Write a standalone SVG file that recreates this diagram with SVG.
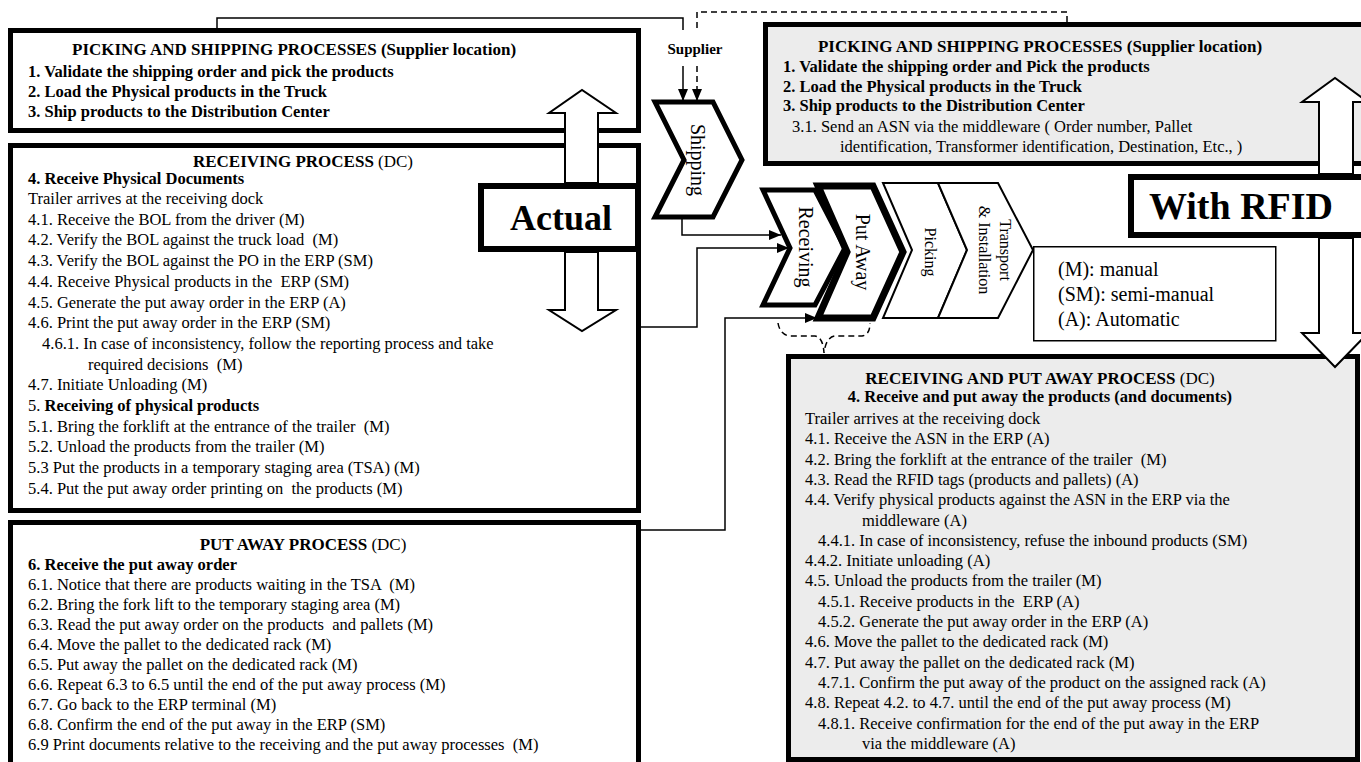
<svg xmlns="http://www.w3.org/2000/svg" width="1361" height="762" viewBox="0 0 1361 762">
<style>
.box{fill:#fff;stroke:#000;stroke-width:5}
.gbox{fill:#ececec;stroke:#000;stroke-width:5}
.t{font-family:"Liberation Serif","Times New Roman",serif;font-size:16.5px;fill:#000}
.b{font-weight:bold}
.n{font-weight:normal}
.h{font-weight:bold;font-size:17px}
.c{text-anchor:middle}
.conn{fill:none;stroke:#000;stroke-width:1.5}
.dash{stroke-dasharray:6 4}
.arr{fill:#fff;stroke:#000;stroke-width:2}
.chev{fill:#fff;stroke:#000;stroke-linejoin:miter}
.cl{font-family:"Liberation Serif","Times New Roman",serif;fill:#000;text-anchor:middle}
</style>
<defs>
<marker id="ah" viewBox="0 0 12 10" refX="12" refY="5" markerWidth="12" markerHeight="10" markerUnits="userSpaceOnUse" orient="auto"><path d="M0,0 L12,5 L0,10 Z" fill="#000"/></marker>
</defs>
<rect width="1361" height="762" fill="#fff"/>

<g id="actual-supplier-box">
<rect class="box" x="10.5" y="30.5" width="628" height="100"/>
<text class="t h" x="72" y="55">PICKING AND SHIPPING PROCESSES (Supplier location)</text>
<text class="t b" x="28" y="77">1. Validate the shipping order and pick the products</text>
<text class="t b" x="28" y="97">2. Load the Physical products in the Truck</text>
<text class="t b" x="28" y="117">3. Ship products to the Distribution Center</text>
</g>

<g id="actual-receiving-box">
<rect class="box" x="10.5" y="145.5" width="628" height="365"/>
<text class="t h c" x="303" y="167">RECEIVING PROCESS <tspan class="n">(DC)</tspan></text>
<text class="t b" x="28" y="184">4. Receive Physical Documents</text>
<text class="t" x="28" y="204">Trailer arrives at the receiving dock</text>
<text class="t" x="28" y="224.7">4.1. Receive the BOL from the driver (M)</text>
<text class="t" x="28" y="245.4" xml:space="preserve">4.2. Verify the BOL against the truck load  (M)</text>
<text class="t" x="28" y="266.1">4.3. Verify the BOL against the PO in the ERP (SM)</text>
<text class="t" x="28" y="286.8" xml:space="preserve">4.4. Receive Physical products in the  ERP (SM)</text>
<text class="t" x="28" y="307.5">4.5. Generate the put away order in the ERP (A)</text>
<text class="t" x="28" y="328.2">4.6. Print the put away order in the ERP (SM)</text>
<text class="t" x="42" y="348.9">4.6.1. In case of inconsistency, follow the reporting process and take</text>
<text class="t" x="88" y="369.6" xml:space="preserve">required decisions  (M)</text>
<text class="t" x="28" y="390.3">4.7. Initiate Unloading (M)</text>
<text class="t" x="28" y="411">5. <tspan class="b">Receiving of physical products</tspan></text>
<text class="t" x="28" y="431.7" xml:space="preserve">5.1. Bring the forklift at the entrance of the trailer  (M)</text>
<text class="t" x="28" y="452.4">5.2. Unload the products from the trailer (M)</text>
<text class="t" x="28" y="473.1">5.3 Put the products in a temporary staging area (TSA) (M)</text>
<text class="t" x="28" y="493.8" xml:space="preserve">5.4. Put the put away order printing on  the products (M)</text>
</g>

<g id="actual-putaway-box">
<rect class="box" x="10.5" y="522.5" width="628" height="260"/>
<text class="t h c" x="303" y="550">PUT AWAY PROCESS <tspan class="n">(DC)</tspan></text>
<text class="t b" x="28" y="570">6. Receive the put away order</text>
<text class="t" x="28" y="590" xml:space="preserve">6.1. Notice that there are products waiting in the TSA  (M)</text>
<text class="t" x="28" y="610">6.2. Bring the fork lift to the temporary staging area (M)</text>
<text class="t" x="28" y="630" xml:space="preserve">6.3. Read the put away order on the products  and pallets (M)</text>
<text class="t" x="28" y="650">6.4. Move the pallet to the dedicated rack (M)</text>
<text class="t" x="28" y="670">6.5. Put away the pallet on the dedicated rack (M)</text>
<text class="t" x="28" y="690">6.6. Repeat 6.3 to 6.5 until the end of the put away process (M)</text>
<text class="t" x="28" y="710">6.7. Go back to the ERP terminal (M)</text>
<text class="t" x="28" y="730">6.8. Confirm the end of the put away in the ERP (SM)</text>
<text class="t" x="28" y="750" xml:space="preserve">6.9 Print documents relative to the receiving and the put away processes  (M)</text>
</g>

<g id="rfid-supplier-box">
<rect class="gbox" x="765.5" y="24.5" width="610" height="139"/>
<text class="t h c" x="1040" y="52">PICKING AND SHIPPING PROCESSES (Supplier location)</text>
<text class="t b" x="783" y="72">1. Validate the shipping order and Pick the products</text>
<text class="t b" x="783" y="92">2. Load the Physical products in the Truck</text>
<text class="t b" x="783" y="111">3. Ship products to the Distribution Center</text>
<text class="t" x="792" y="132">3.1. Send an ASN via the middleware ( Order number, Pallet</text>
<text class="t" x="840" y="152">identification, Transformer identification, Destination, Etc., )</text>
</g>

<g id="rfid-receiving-putaway-box">
<rect class="gbox" x="788.5" y="356.5" width="569" height="403"/>
<text class="t h c" x="1040" y="384">RECEIVING AND PUT AWAY PROCESS <tspan class="n">(DC)</tspan></text>
<text class="t b c" x="1040" y="402">4. Receive and put away the products (and documents)</text>
<text class="t" x="805" y="424">Trailer arrives at the receiving dock</text>
<text class="t" x="805" y="444.3">4.1. Receive the ASN in the ERP (A)</text>
<text class="t" x="805" y="464.6" xml:space="preserve">4.2. Bring the forklift at the entrance of the trailer  (M)</text>
<text class="t" x="805" y="484.9">4.3. Read the RFID tags (products and pallets) (A)</text>
<text class="t" x="805" y="505.2">4.4. Verify physical products against the ASN in the ERP via the</text>
<text class="t" x="862" y="525.5">middleware (A)</text>
<text class="t" x="818" y="545.8">4.4.1. In case of inconsistency, refuse the inbound products (SM)</text>
<text class="t" x="805" y="566.1">4.4.2. Initiate unloading (A)</text>
<text class="t" x="805" y="586.4">4.5. Unload the products from the trailer (M)</text>
<text class="t" x="818" y="606.7" xml:space="preserve">4.5.1. Receive products in the  ERP (A)</text>
<text class="t" x="818" y="627">4.5.2. Generate the put away order in the ERP (A)</text>
<text class="t" x="805" y="647.3">4.6. Move the pallet to the dedicated rack (M)</text>
<text class="t" x="805" y="667.6">4.7. Put away the pallet on the dedicated rack (M)</text>
<text class="t" x="818" y="687.9">4.7.1. Confirm the put away of the product on the assigned rack (A)</text>
<text class="t" x="805" y="708.2">4.8. Repeat 4.2. to 4.7. until the end of the put away process (M)</text>
<text class="t" x="818" y="728.5">4.8.1. Receive confirmation for the end of the put away in the ERP</text>
<text class="t" x="862" y="748.8">via the middleware (A)</text>
</g>

<g id="supplier">
<text class="cl" x="695" y="54" style="font-size:15px;font-weight:bold">Supplier</text>
</g>

<g id="connectors">
<path class="conn" d="M217,28 V18 H683 V30"/>
<path class="conn" d="M683,66 V101" marker-end="url(#ah)"/>
<path class="conn dash" d="M697,28 V12 H1067 V22"/>
<path class="conn dash" d="M697,66 V101" marker-end="url(#ah)"/>
<path class="conn" d="M682,218 V235 H781" marker-end="url(#ah)"/>
<path class="conn" d="M641,327 H697 V248 H789" marker-end="url(#ah)"/>
<path class="conn" d="M641,530 H725 V318 H817" marker-end="url(#ah)"/>
<path class="conn dash" d="M778,323 Q780,335 790,336 H815 Q823,337 824,353 Q826,337 835,336 H862 Q870,335 870,323"/>
</g>

<g id="shipping">
<path class="chev" style="stroke-width:5" d="M655,102 L713,102 L742,160 L713,217 L655,217 L684,160 Z"/>
<text class="cl" style="font-size:20px" transform="translate(697,160) rotate(90)" y="6">Shipping</text>
</g>
<g id="receiving">
<path class="chev" style="stroke-width:5" d="M763,190 L815,190 L845,248 L815,305 L763,305 L790,248 Z"/>
<text class="cl" style="font-size:20px" transform="translate(805,247) rotate(90)" y="6">Receiving</text>
</g>
<g id="put-away">
<path class="chev" style="stroke-width:7" d="M818,186 L873,186 L903,252 L873,318 L818,318 L847,252 Z"/>
<text class="cl" style="font-size:20px" transform="translate(862,252) rotate(90)" y="6">Put Away</text>
</g>
<g id="picking">
<path class="chev" style="stroke-width:2" d="M883,183 L938,183 L967,250 L938,318 L883,318 L912,250 Z"/>
<text class="cl" style="font-size:16px" transform="translate(930,252) rotate(90)" y="5">Picking</text>
</g>
<g id="transport">
<path class="chev" style="stroke-width:2" d="M938,183 L998,183 L1033,250 L998,318 L938,318 L967,250 Z"/>
<text class="cl" style="font-size:16px" transform="translate(995,250) rotate(90)"><tspan x="0" y="-5">Transport</tspan><tspan x="0" y="16">&amp; Installation</tspan></text>
</g>

<g id="legend">
<rect x="1033.75" y="246.75" width="242" height="94" fill="#fff" stroke="#000" stroke-width="1.5"/>
<text class="t" style="font-size:20px" x="1058" y="276">(M): manual</text>
<text class="t" style="font-size:20px" x="1058" y="301">(SM): semi-manual</text>
<text class="t" style="font-size:20px" x="1058" y="326">(A): Automatic</text>
</g>

<g id="actual-arrow">
<polygon class="arr" points="565,183 565,113 549,113 582,90 616,113 598,113 598,183"/>
<polygon class="arr" points="565,252 565,310 549,310 582,331 616,310 598,310 598,252"/>
</g>
<g id="actual">
<rect x="481" y="186" width="157" height="63" fill="#fff" stroke="#000" stroke-width="6"/>
<text class="cl" style="font-size:36px;font-weight:bold" x="561" y="230">Actual</text>
</g>

<g id="rfid-arrow">
<polygon class="arr" points="1319,174 1319,102 1302,102 1335,78 1368,102 1353,102 1353,174"/>
<polygon class="arr" points="1319,238 1319,333 1302,333 1335,367 1368,333 1353,333 1353,238"/>
</g>
<g id="with-rfid">
<rect x="1131" y="177" width="240" height="58" fill="#fff" stroke="#000" stroke-width="6"/>
<text class="cl" style="font-size:38px;font-weight:bold" x="1241" y="219">With RFID</text>
</g>
</svg>
